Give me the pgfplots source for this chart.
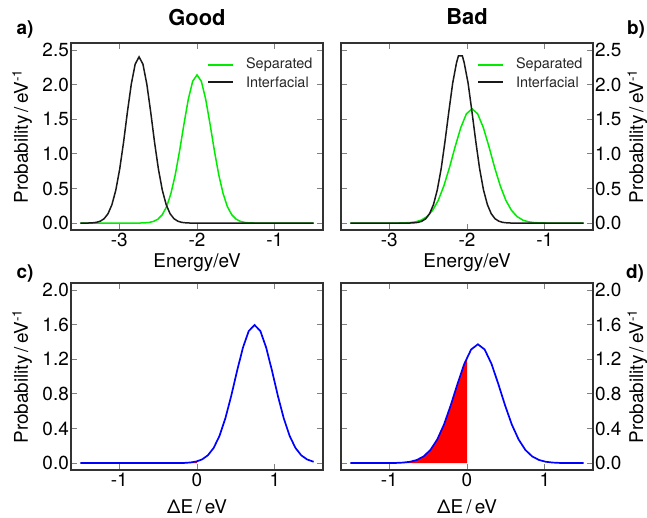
\documentclass[border=0pt]{standalone}
\usepackage{fontspec}
\setmainfont{TeX Gyre Heros}
\usepackage{pgfplots}
\pgfplotsset{compat=1.18}

\definecolor{sepgreen}{RGB}{0,235,0}

\pgfplotsset{
  panel/.style={
    scale only axis, width=252bp, height=187bp, anchor=south west,
    axis line style={draw=black!80, line width=1.2bp},
    tick align=inside, tick pos=both, major tick length=6bp,
    tick style={gray, line width=0.7bp},
    tick label style={font=\fontsize{19}{22}\selectfont},
    yticklabel style={inner sep=2bp},
    label style={font=\fontsize{19}{22}\selectfont},
    title style={font=\fontsize{22}{26}\selectfont\bfseries,
      at={(axis description cs:0.5,1.107)}, anchor=center},
    ylabel={Probability\,/\,eV\textsuperscript{-1}},
  },
  toppanel/.style={
    xmin=-3.62, xmax=-0.38, ymin=-0.1, ymax=2.6,
    xtick={-3,-2,-1}, xticklabels={-3,-2,-1},
    ytick={0,0.5,1,1.5,2,2.5}, yticklabels={0.0,0.5,1.0,1.5,2.0,2.5},
    xlabel={Energy/eV},
    xlabel style={at={(axis description cs:0.5,-0.176)}, anchor=center},
  },
  botpanel/.style={
    xmin=-1.62, xmax=1.62, ymin=-0.08, ymax=2.08,
    xtick={-1,0,1}, xticklabels={-1,0,1},
    ytick={0,0.4,0.8,1.2,1.6,2.0}, yticklabels={0.0,0.4,0.8,1.2,1.6,2.0},
    xlabel={ΔE\,/\,eV},
    xlabel style={at={(axis description cs:0.5,-0.198)}, anchor=center},
  },
  leftpanel/.style={
    ylabel style={at={(axis description cs:-0.194,0.5)}, anchor=center},
  },
  rightpanel/.style={
    yticklabel pos=right,
    ylabel style={at={(axis description cs:1.176,0.5)}, anchor=center},
  },
}

% legend drawn inside the axis, in axis description coordinates
\newcommand{\seplegend}{%
  \draw[sepgreen, line width=1.5bp] (axis description cs:0.544,0.882) -- (axis description cs:0.643,0.882);
  \node[anchor=west, inner sep=0pt, text=black!85, font=\fontsize{14.5}{17}\selectfont]
    at (axis description cs:0.694,0.882) {Separated};
  \draw[black!90, line width=1.5bp] (axis description cs:0.544,0.791) -- (axis description cs:0.643,0.791);
  \node[anchor=west, inner sep=0pt, text=black!85, font=\fontsize{14.5}{17}\selectfont]
    at (axis description cs:0.694,0.791) {Interfacial};
}

\begin{document}
\begin{tikzpicture}
\useasboundingbox (0,0) rectangle (647bp,518bp);

% a) good, energies
\begin{axis}[panel, toppanel, leftpanel, at={(71bp,288bp)}, title={Good}]
\addplot[sepgreen, line width=1.5bp] coordinates {
(-3.5,0) (-2.727,0.001) (-2.671,0.003) (-2.615,0.009) (-2.559,0.024) (-2.503,0.056)
(-2.447,0.120) (-2.391,0.236) (-2.336,0.424) (-2.280,0.695) (-2.224,1.042) (-2.168,1.427)
(-2.112,1.787) (-2.056,2.046) (-2.0,2.14) (-1.944,2.046) (-1.888,1.787) (-1.832,1.427)
(-1.776,1.042) (-1.720,0.695) (-1.664,0.424) (-1.609,0.236) (-1.553,0.120) (-1.497,0.056)
(-1.441,0.024) (-1.385,0.009) (-1.329,0.003) (-1.273,0.001) (-0.5,0)};
\addplot[black!90, line width=1.5bp] coordinates {
(-3.5,0) (-3.393,0.001) (-3.343,0.004) (-3.294,0.010) (-3.244,0.027) (-3.194,0.063)
(-3.144,0.135) (-3.094,0.265) (-3.044,0.475) (-2.994,0.779) (-2.944,1.168) (-2.895,1.601)
(-2.845,2.005) (-2.795,2.294) (-2.745,2.40) (-2.695,2.294) (-2.645,2.005) (-2.595,1.601)
(-2.546,1.168) (-2.496,0.779) (-2.446,0.475) (-2.396,0.265) (-2.346,0.135) (-2.296,0.063)
(-2.246,0.027) (-2.197,0.010) (-2.147,0.004) (-2.097,0.001) (-0.5,0)};
\seplegend
\end{axis}

% b) bad, energies
\begin{axis}[panel, toppanel, rightpanel, at={(341bp,288bp)}, title={Bad}]
\addplot[sepgreen, line width=1.5bp] coordinates {
(-3.5,0) (-2.878,0.001) (-2.806,0.003) (-2.733,0.007) (-2.660,0.018) (-2.588,0.043)
(-2.515,0.093) (-2.443,0.182) (-2.370,0.327) (-2.298,0.536) (-2.225,0.803) (-2.153,1.101)
(-2.080,1.378) (-2.008,1.577) (-1.935,1.65) (-1.863,1.577) (-1.790,1.378) (-1.717,1.101)
(-1.645,0.803) (-1.572,0.536) (-1.500,0.327) (-1.427,0.182) (-1.355,0.093) (-1.282,0.043)
(-1.210,0.018) (-1.137,0.007) (-1.065,0.003) (-0.992,0.001) (-0.5,0)};
\addplot[black!90, line width=1.5bp] coordinates {
(-3.5,0) (-2.728,0.001) (-2.679,0.004) (-2.629,0.010) (-2.580,0.027) (-2.530,0.063)
(-2.481,0.136) (-2.431,0.267) (-2.382,0.479) (-2.332,0.786) (-2.283,1.178) (-2.233,1.614)
(-2.184,2.021) (-2.135,2.314) (-2.11,2.415) (-2.06,2.415) (-2.036,2.314) (-1.986,2.021)
(-1.937,1.614) (-1.887,1.178) (-1.838,0.786) (-1.788,0.479) (-1.738,0.267) (-1.689,0.136)
(-1.640,0.063) (-1.590,0.027) (-1.541,0.010) (-1.491,0.004) (-1.442,0.001) (-0.5,0)};
\seplegend
\end{axis}

% c) good, energy difference
\begin{axis}[panel, botpanel, leftpanel, at={(71bp,48bp)}]
\addplot[fill=red, draw=none] coordinates {
(-1.5,0) (-0.235,0.001) (-0.16,0.002) (-0.085,0.007) (-0.01,0.018) (0,0.02) (0,0)} \closedcycle;
\addplot[blue, line width=1.7bp] coordinates {
(-1.5,0) (-0.235,0.001) (-0.16,0.002) (-0.085,0.007) (-0.01,0.018) (0.065,0.042)
(0.14,0.090) (0.215,0.176) (0.29,0.316) (0.365,0.518) (0.44,0.776) (0.515,1.064)
(0.59,1.332) (0.665,1.525) (0.74,1.595) (0.815,1.525) (0.89,1.332) (0.965,1.064)
(1.04,0.776) (1.115,0.518) (1.19,0.316) (1.265,0.176) (1.34,0.090) (1.415,0.042)
(1.49,0.018) (1.5,0.016)};
\end{axis}

% d) bad, energy difference
\begin{axis}[panel, botpanel, rightpanel, at={(341bp,48bp)}]
\addplot[fill=red, draw=none] coordinates {
(-1.5,0) (-0.994,0.001) (-0.907,0.002) (-0.820,0.006) (-0.732,0.015) (-0.645,0.036)
(-0.558,0.077) (-0.471,0.151) (-0.383,0.272) (-0.296,0.445) (-0.209,0.668) (-0.122,0.915)
(-0.035,1.146) (0,1.222) (0,0)} \closedcycle;
\addplot[blue, line width=1.7bp] coordinates {
(-1.5,0) (-0.994,0.001) (-0.907,0.002) (-0.820,0.006) (-0.732,0.015) (-0.645,0.036)
(-0.558,0.077) (-0.471,0.151) (-0.383,0.272) (-0.296,0.445) (-0.209,0.668) (-0.122,0.915)
(-0.035,1.146) (0.053,1.312) (0.14,1.372) (0.227,1.312) (0.315,1.146) (0.402,0.915)
(0.489,0.668) (0.576,0.445) (0.664,0.272) (0.751,0.151) (0.838,0.077) (0.925,0.036)
(1.013,0.015) (1.100,0.006) (1.187,0.002) (1.274,0.001) (1.5,0)};
\end{axis}

\node[font=\fontsize{19}{22}\selectfont\bfseries] at (25bp,489bp) {a)};
\node[font=\fontsize{19}{22}\selectfont\bfseries] at (636bp,489bp) {b)};
\node[font=\fontsize{19}{22}\selectfont\bfseries] at (25bp,245bp) {c)};
\node[font=\fontsize{19}{22}\selectfont\bfseries] at (635bp,245bp) {d)};
\end{tikzpicture}
\end{document}
